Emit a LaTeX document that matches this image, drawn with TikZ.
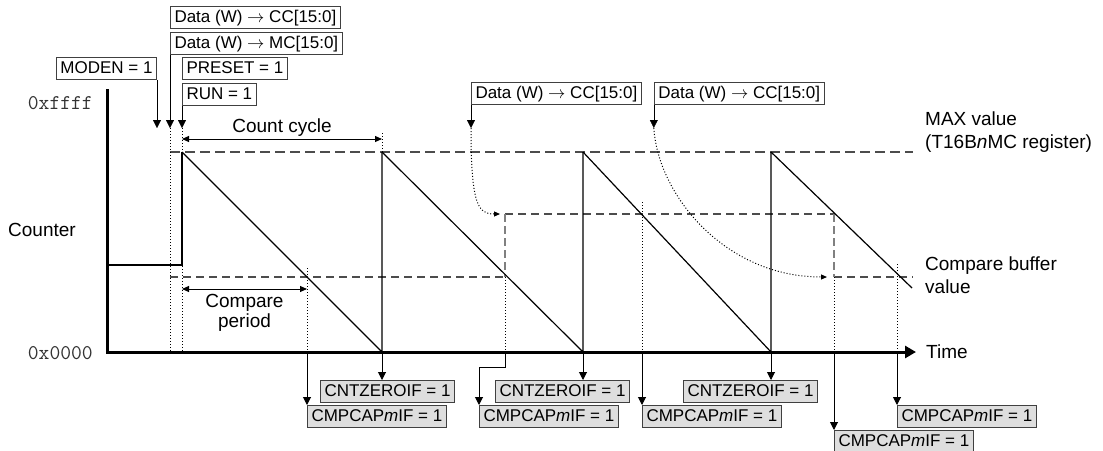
\documentclass[tikz,border=0pt]{standalone}
\usepackage{fontspec}
\setmainfont{Liberation Sans}
\usetikzlibrary{calc, positioning, arrows.meta}

\begin{document}
\begin{tikzpicture}[>={Triangle[length=8pt, width=8pt]}, x=1pt, y=-1pt,
    regbox/.style={draw=black!75, line width=1pt, fill=white, inner xsep=4pt, inner ysep=3pt,
        text height=12.5pt, text depth=3.5pt, font=\fontsize{17}{20}\selectfont},
    flagbox/.style={regbox, fill=black!13},
    lbl/.style={inner sep=0pt, align=left, font=\fontsize{19}{23}\selectfont},
    hexlbl/.style={inner sep=0pt, text=black!80, font=\ttfamily\fontsize{21}{21}\selectfont},
    ramp/.style={line width=1.2pt},
    maxline/.style={black!70, line width=1.2pt, dash pattern=on 10pt off 5pt},
    cmpline/.style={black!70, line width=1.2pt, dash pattern=on 8pt off 5pt},
    cmpvert/.style={black!50, line width=1.2pt, dash pattern=on 8pt off 4pt},
    guide/.style={dotted, line width=1pt},
    dimarr/.style={{Triangle[length=7pt, width=6pt]}-{Triangle[length=7pt, width=6pt]}, line width=1pt},
    curvearr/.style={-{Triangle[length=6pt, width=5pt]}}]
    \useasboundingbox (0,0) rectangle (1103,450);

    % 1. Hệ trục tọa độ
    \draw[line width=3pt, -{Triangle[length=11pt, width=12pt]}] (107,89) -- (107,352) -- (916,352);
    \node[hexlbl, anchor=east] (vmax) at (93,103) {0xffff};
    \node[hexlbl, anchor=east] (vmin) at (93,353) {0x0000};
    \node[lbl, anchor=west] (cnt) at (8,230) {Counter};
    \node[lbl, anchor=west] (time) at (926,352) {Time};
    \node[lbl, anchor=west] (maxv) at (925,132) {MAX value\\(T16B\textit{n}MC register)};
    \node[lbl, anchor=west] (cmpv) at (925,275) {Compare buffer\\value};

    % 2. Các mức MAX và so sánh
    \draw[maxline] (170,152) -- (913,152);
    \draw[cmpline] (170,277) -- (505,277);
    \draw[cmpline] (505,214) -- (834,214);
    \draw[cmpline] (834,277) -- (913,277);
    \draw[cmpvert] (505,214) -- (505,277);
    \draw[cmpvert] (834,214) -- (834,277);

    % 3. Các đường mốc
    \draw[guide] (170,128) -- (170,352);
    \draw[guide] (182,128) -- (182,352);
    \draw[guide] (382,133) -- (382,152);
    \foreach \x/\y in {307/268, 505/277, 642/202, 834/277, 897/264}
        \draw[guide] (\x,\y) -- (\x,352);

    % 4. Bộ đếm
    \draw[ramp] (107,265) -- (182,265) -- (182,152);
    \foreach \a/\b in {182/382, 382/583, 583/771}
        \draw[ramp] (\a,152) -- (\b,352) -- (\b,152);
    \draw[ramp] (771,152) -- (912,288);

    % 5. Chu kỳ đếm và chu kỳ so sánh
    \draw[dimarr] (182,139) -- node[lbl, above=2pt] (cyc) {Count cycle} (382,139);
    \draw[dimarr] (182,289) -- node[lbl, align=center, below=5pt, font=\fontsize{19}{20}\selectfont] (cmpp) {Compare\\period} (307,289);

    % 6. Các thanh ghi phía trên
    \node[regbox, anchor=north west] (datacc) at (170,6) {Data (W) $\rightarrow$ CC[15:0]};
    \node[regbox, below=3pt of datacc.south west, anchor=north west] (datamc) {Data (W) $\rightarrow$ MC[15:0]};
    \node[regbox, anchor=south east] (moden) at (157,80) {MODEN = 1};
    \node[regbox, anchor=north west] (preset) at (182,57) {PRESET = 1};
    \node[regbox, below=3pt of preset.south west, anchor=north west] (run) {RUN = 1};
    \node[regbox, anchor=north west] (wcc1) at (471,82) {Data (W) $\rightarrow$ CC[15:0]};
    \node[regbox, right=12pt of wcc1] (wcc2) {Data (W) $\rightarrow$ CC[15:0]};

    \coordinate (tip) at (157,128);
    \draw[->] (moden.south east) -- (tip);
    \draw[->] (datamc.south west) -- (datamc.south west |- tip);
    \draw[->] (run.south west) -- (run.south west |- tip);
    \draw[->] (wcc1.south west) -- (wcc1.south west |- tip);
    \draw[->] (wcc2.south west) -- (wcc2.south west |- tip);

    \coordinate (new1) at (500,214);
    \coordinate (new2) at (827,277);
    \draw[guide, curvearr] (wcc1.south west |- tip) .. controls (471,205) and (478,214) .. (new1);
    \draw[guide, curvearr] (wcc2.south west |- tip) .. controls (658,195) and (725,277) .. (new2);

    % 7. Các cờ ngắt phía dưới
    \node[flagbox, anchor=north west] (zero1) at (320,380) {CNTZEROIF = 1};
    \node[flagbox, anchor=north west] (zero2) at (495,380) {CNTZEROIF = 1};
    \node[flagbox, anchor=north west] (zero3) at (683,380) {CNTZEROIF = 1};
    \node[flagbox, anchor=north west] (cap1) at (307,405) {CMPCAP\textit{m}IF = 1};
    \node[flagbox, anchor=north west] (cap2) at (479,405) {CMPCAP\textit{m}IF = 1};
    \node[flagbox, anchor=north west] (cap3) at (642,405) {CMPCAP\textit{m}IF = 1};
    \node[flagbox, anchor=north west] (cap4) at (834,430) {CMPCAP\textit{m}IF = 1};
    \node[flagbox, anchor=north west] (cap5) at (897,405) {CMPCAP\textit{m}IF = 1};

    \foreach \x/\b in {382/zero1, 583/zero2, 771/zero3, 307/cap1, 642/cap3, 834/cap4, 897/cap5} {
        \coordinate (p) at (\x,352);
        \draw[->, line width=1pt] (p) -- (p |- \b.north);
    }
    \coordinate (p2) at (505,352);
    \draw[->, line width=1pt] (p2) -- ++(0,15) -| (cap2.north west);
\end{tikzpicture}
\end{document}
